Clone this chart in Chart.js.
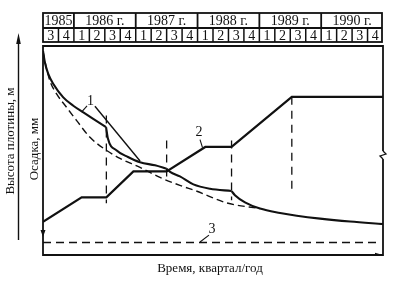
<!DOCTYPE html>
<html>
<head>
<meta charset="utf-8">
<script src="https://cdn.jsdelivr.net/npm/chart.js@4.4.1/dist/chart.umd.min.js"></script>
<style>
  body { margin: 0; background: #fff; }
  #wrap { width: 414px; height: 281px; position: relative; }
</style>
</head>
<body>
<div id="wrap"><canvas id="chart"></canvas></div>
<script>
// quarters counted from 1985 Q3 (0) to end of 1990 (22)
var yearLabels = ['1985', '1986 г.', '1987 г.', '1988 г.', '1989 г.', '1990 г.'];
var yearStarts = [0, 2, 6, 10, 14, 18, 22];
var quarterLabels = ['3', '4', '1', '2', '3', '4', '1', '2', '3', '4', '1', '2', '3', '4', '1', '2', '3', '4', '1', '2', '3', '4'];

// 2 - dam height (relative units)
var heightQ = [0, 2.5, 4.1, 5.85, 8.0, 10.5, 12.2, 16.1, 22];
var heightVal = [15.9, 27.6, 27.6, 40.0, 40.0, 51.7, 51.7, 75.7, 75.7];

// 1 - settlement, measured (solid), one piece per construction stage
var settleQ1 = [0, 0.13, 0.34, 0.67, 1.31, 1.96, 2.61, 3.25, 4.08];
var settleVal1 = [2.4, 8.1, 13.3, 18.2, 24.6, 28.6, 31.8, 34.9, 38.8];
var settleQ2 = [4.08, 4.2, 4.77, 5.5, 6.28, 7.25, 8.0];
var settleVal2 = [38.8, 44.3, 50.0, 53.1, 55.6, 57.1, 58.7];
var settleQ3 = [8.0, 8.22, 8.86, 9.73, 10.8, 12.2];
var settleVal3 = [58.7, 60.2, 62.4, 66.2, 68.3, 69.4];
var settleQ4 = [12.2, 12.42, 13.07, 14.04, 15.34, 16.42, 17.93, 19.87, 22];
var settleVal4 = [69.4, 71.4, 74.8, 77.8, 79.9, 81.2, 82.6, 84.0, 85.2];

// 1 - settlement, calculated (dashed)
var calcQ = [0, 0.19, 0.45, 0.89, 1.53, 2.18, 3.04, 4.12, 4.98, 6.28, 7.57, 8.86, 9.96, 11.9, 14.04];
var calcVal = [2.4, 9.5, 16.7, 23.0, 29.4, 35.7, 43.7, 50.0, 53.8, 58.1, 62.9, 66.7, 69.5, 75.1, 77.8];

// 3 - horizontal dashed level
var levelQ = [0, 21.6];
var levelVal = [94.0, 94.0];

// stage marks (vertical dashed)
var stageQ = [4.1, 8.0, 12.2, 16.1];
var stageFrom = [33.3, 45.2, 45.2, 24.3];
var stageTo = [75.2, 64.3, 73.8, 70.5];

function pts(xs, ys) {
    return xs.map(function(v, i) { return { x: v, y: ys[i] }; });
}

function solid(xs, ys) {
    return { data: pts(xs, ys), yAxisID: 'yS', borderColor: '#111', borderWidth: 2.1, cubicInterpolationMode: 'monotone' };
}

var datasets = [
    { data: pts(heightQ, heightVal), yAxisID: 'yH', borderColor: '#111', borderWidth: 2.2, tension: 0 },
    solid(settleQ1, settleVal1),
    solid(settleQ2, settleVal2),
    solid(settleQ3, settleVal3),
    solid(settleQ4, settleVal4),
    { data: pts(calcQ, calcVal), yAxisID: 'yS', borderColor: '#111', borderWidth: 1.4, borderDash: [7, 4], cubicInterpolationMode: 'monotone' },
    { data: pts(levelQ, levelVal), yAxisID: 'yS', borderColor: '#111', borderWidth: 1.4, borderDash: [8, 5] },
    // leaders for labels 1, 2, 3
    { data: pts([3.36, 6.28], [28.8, 55.0]), yAxisID: 'yS', borderColor: '#111', borderWidth: 1.4 },
    { data: pts([2.85, 2.52], [28.6, 31.4]), yAxisID: 'yS', borderColor: '#111', borderWidth: 1.1 },
    { data: pts([10.16, 10.32], [55.2, 51.4]), yAxisID: 'yH', borderColor: '#111', borderWidth: 1.1 },
    { data: pts([10.74, 10.16], [90.5, 93.8]), yAxisID: 'yS', borderColor: '#111', borderWidth: 1.1 }
];
stageQ.forEach(function(q, i) {
    datasets.push({ data: pts([q, q], [stageFrom[i], stageTo[i]]), yAxisID: 'yS', borderColor: '#111', borderWidth: 1.3, borderDash: [8, 6] });
});

var FONT = '"Liberation Serif", "DejaVu Serif", serif';

var decor = {
    id: 'decor',
    afterDraw: function(chart) {
        var c = chart.ctx, a = chart.chartArea, xs = chart.scales.x;
        var yS = chart.scales.yS, yH = chart.scales.yH;
        c.save();
        c.strokeStyle = '#111';
        c.fillStyle = '#111';
        c.lineWidth = 1.8;

        // frame, right side broken
        c.beginPath();
        c.moveTo(a.right, 151); c.lineTo(a.right, a.top); c.lineTo(a.left, a.top);
        c.lineTo(a.left, a.bottom); c.lineTo(a.right, a.bottom); c.lineTo(a.right, 159);
        c.stroke();
        c.lineWidth = 1.3;
        c.beginPath();
        c.moveTo(a.right, 151); c.lineTo(a.right + 3, 154); c.lineTo(a.right - 3, 156); c.lineTo(a.right, 159);
        c.stroke();

        // table of years / quarters
        var t0 = 13, t1 = 28, t2 = 42;
        var L = xs.getPixelForValue(0), R = xs.getPixelForValue(22) - 1;
        c.lineWidth = 1.8;
        c.strokeRect(L, t0, R - L, t2 - t0);
        c.beginPath(); c.moveTo(L, t1); c.lineTo(R, t1); c.stroke();
        c.textAlign = 'center';
        c.textBaseline = 'middle';
        c.font = '14px ' + FONT;
        for (var i = 0; i < yearLabels.length; i++) {
            var x0 = xs.getPixelForValue(yearStarts[i]), x1 = xs.getPixelForValue(yearStarts[i + 1]);
            if (i > 0) { c.beginPath(); c.moveTo(x0, t0); c.lineTo(x0, t1); c.stroke(); }
            c.fillText(yearLabels[i], (x0 + x1) / 2, (t0 + t1) / 2 + 1);
        }
        c.lineWidth = 1.5;
        for (var k = 0; k < quarterLabels.length; k++) {
            var q0 = xs.getPixelForValue(k), q1 = xs.getPixelForValue(k + 1);
            if (k > 0) { c.beginPath(); c.moveTo(q0, t1); c.lineTo(q0, t2); c.stroke(); }
            c.fillText(quarterLabels[k], (q0 + q1) / 2, (t1 + t2) / 2 + 1);
        }

        // height axis arrow
        c.lineWidth = 1.4;
        c.beginPath(); c.moveTo(18.5, 240); c.lineTo(18.5, 40); c.stroke();
        c.beginPath(); c.moveTo(18.5, 33); c.lineTo(16.2, 44); c.lineTo(20.8, 44); c.closePath(); c.fill();
        // small arrow on settlement axis
        c.beginPath(); c.moveTo(a.left, 237); c.lineTo(a.left - 2.5, 230); c.lineTo(a.left + 2.5, 230); c.closePath(); c.fill();
        // time arrow
        c.beginPath(); c.moveTo(a.right, a.bottom); c.lineTo(a.right - 8, a.bottom - 2.2); c.lineTo(a.right - 8, a.bottom + 1); c.closePath(); c.fill();

        // axis titles
        c.font = '13px ' + FONT;
        c.fillText('Время, квартал/год', 210, 269);
        c.save();
        c.translate(11, 141); c.rotate(-Math.PI / 2);
        c.fillText('Высота плотины, м', 0, 0);
        c.restore();
        c.save();
        c.translate(35, 149); c.rotate(-Math.PI / 2);
        c.fillText('Осадка, мм', 0, 0);
        c.restore();

        // curve labels
        c.font = '14px ' + FONT;
        c.fillText('1', xs.getPixelForValue(3.08), yS.getPixelForValue(26.5));
        c.fillText('2', xs.getPixelForValue(10.1), yH.getPixelForValue(58.8));
        c.fillText('3', xs.getPixelForValue(10.94), yS.getPixelForValue(87.6));
        c.restore();
    }
};

new Chart(document.getElementById('chart').getContext('2d'), {
    type: 'line',
    data: { datasets: datasets },
    options: {
        responsive: true,
        maintainAspectRatio: false,
        animation: false,
        layout: { padding: { left: 43, right: 31, top: 46, bottom: 26 } },
        elements: { point: { radius: 0 } },
        scales: {
            x: { type: 'linear', min: 0, max: 22, display: false },
            yH: { min: 0, max: 100, display: false },
            yS: { min: 0, max: 100, reverse: true, display: false }
        },
        plugins: { legend: { display: false }, tooltip: { enabled: false } }
    },
    plugins: [decor]
});
</script>
</body>
</html>
